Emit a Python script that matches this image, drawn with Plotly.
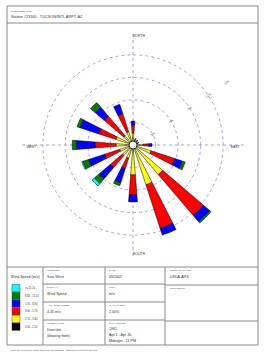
import plotly.graph_objects as go

W, H = 265, 357

directions = ["N", "NNE", "NE", "ENE", "E", "ESE", "SE", "SSE",
              "S", "SSW", "SW", "WSW", "W", "WNW", "NW", "NNW"]
angles = [0, 22.5, 45, 67.5, 90, 112.5, 135, 157.5,
          180, 202.5, 225, 247.5, 270, 292.5, 315, 337.5]

speed_classes = ["0.50 - 2.10", "2.10 - 3.60", "3.60 - 5.70",
                 "5.70 - 8.80", "8.80 - 11.10", ">= 11.10"]
class_colors = ["#000000", "#FFFF00", "#FF0000", "#0000FF", "#008000", "#00FFFF"]

# frequency (%) per direction for each wind-speed class
freq_050_210 = [0.27, 0.20, 0.20, 0.20, 0.27, 0.27, 0.27, 0.27, 0.27, 0.27, 0.27, 0.27, 0.27, 0.27, 0.27, 0.27]
freq_210_360 = [1.33, 0.46, 0.40, 0.40, 1.06, 2.26, 4.91, 5.31, 3.72, 1.59, 1.59, 1.59, 1.99, 2.12, 1.33, 1.59]
freq_360_570 = [1.06, 0.27, 0.27, 0.20, 0.76, 3.32, 7.17, 6.11, 2.66, 1.46, 2.12, 2.12, 2.79, 2.39, 3.45, 2.52]
freq_570_880 = [0.53, 0.00, 0.00, 0.00, 0.44, 1.06, 1.06, 0.93, 0.93, 1.99, 1.99, 2.26, 2.52, 2.66, 1.59, 1.33]
freq_880_1110 = [0.00, 0.00, 0.00, 0.00, 0.00, 0.40, 0.27, 0.00, 0.00, 0.40, 0.80, 0.80, 0.53, 0.40, 0.80, 0.00]
freq_ge_1110 = [0.00, 0.00, 0.00, 0.00, 0.00, 0.00, 0.00, 0.00, 0.00, 0.00, 0.40, 0.13, 0.00, 0.00, 0.00, 0.00]
series = [freq_050_210, freq_210_360, freq_360_570, freq_570_880, freq_880_1110, freq_ge_1110]

radial_ticks = [3, 6, 9, 12, 15]
radial_labels = ["3%", "6%", "9%", "12%", "15%"]
compass_labels = ["NORTH", "EAST", "SOUTH", "WEST"]
compass_angles = [0, 90, 180, 270]

header_title = "WIND ROSE PLOT:"
station = "Station #23160 - TUCSON/INTL ARPT, AZ"
legend_title = "Wind Speed (m/s)"
footer = "WRPLOT View 3.5 by Lakes Environmental Software - www.lakes-environmental.com"

def px(x):
    return x / W

def py(y):
    return 1 - y / H

fig = go.Figure()
for vals, name, col in zip(series, speed_classes, class_colors):
    fig.add_trace(go.Barpolar(r=vals, theta=angles, name=name, width=9,
                              marker=dict(color=col, line=dict(color="black", width=0.5)),
                              showlegend=False))

# calm circle
fig.add_trace(go.Scatterpolar(r=[0], theta=[0], mode="markers", showlegend=False,
                              marker=dict(size=8, color="white", line=dict(color="black", width=0.8))))

# compass labels inside the outer circle
fig.add_trace(go.Scatterpolar(r=[14.75, 14.2, 14.75, 14.2], theta=compass_angles, mode="text",
                              text=compass_labels, showlegend=False,
                              textposition=["bottom right", "bottom left", "top right", "bottom right"],
                              textfont=dict(size=3.4, color="#333333", family="Liberation Sans")))

grid_col = "#a4a4dc"
fig.update_layout(
    width=W, height=H, margin=dict(l=0, r=0, t=0, b=0),
    paper_bgcolor="white", plot_bgcolor="white",
    polar=dict(
        domain=dict(x=[px(20), px(246)], y=[py(258), py(32)]),
        bgcolor="white",
        angularaxis=dict(rotation=90, direction="clockwise", tickvals=compass_angles,
                         showticklabels=False, ticks="", showline=False,
                         gridcolor=grid_col, griddash="dot", gridwidth=1),
        radialaxis=dict(range=[0, 15.05], tickvals=radial_ticks, ticktext=radial_labels,
                        showline=False, ticks="", angle=35, tickangle=0,
                        gridcolor=grid_col, griddash="dot", gridwidth=1,
                        tickfont=dict(size=3, color="#333333", family="Liberation Sans")),
    ),
)

line_col = "#888888"
shapes = []
def hline(x0, x1, y):
    shapes.append(dict(type="line", xref="paper", yref="paper", x0=px(x0), x1=px(x1),
                       y0=py(y), y1=py(y), line=dict(color=line_col, width=1)))
def vline(x, y0, y1):
    shapes.append(dict(type="line", xref="paper", yref="paper", x0=px(x), x1=px(x),
                       y0=py(y0), y1=py(y1), line=dict(color=line_col, width=1)))

shapes.append(dict(type="rect", xref="paper", yref="paper", x0=px(7), x1=px(258),
                   y0=py(345), y1=py(6), line=dict(color=line_col, width=1)))
hline(7, 258, 23)
hline(7, 258, 267)
for x in [43, 105, 165]:
    vline(x, 267, 345)
for y in [284, 302, 320]:
    hline(43, 165, y)
for y in [285, 321]:
    hline(165, 258, y)

# legend swatches (top: strongest class)
box_top = 284.5
for i, col in enumerate(reversed(class_colors)):
    y0 = box_top + i * 7.7
    shapes.append(dict(type="rect", xref="paper", yref="paper", x0=px(12), x1=px(20),
                       y0=py(y0 + 7.4), y1=py(y0), fillcolor=col,
                       line=dict(color="#444444", width=0.5)))

annotations = []
def txt(x, y, s, size, color="#333333", anchor="left"):
    annotations.append(dict(x=px(x), y=py(y), xref="paper", yref="paper", text=s,
                            showarrow=False, xanchor=anchor, yanchor="middle",
                            font=dict(size=size, color=color, family="Liberation Sans")))

txt(9, 11, header_title, 2.4, "#444444")
txt(9, 17, station, 3.8)
txt(25, 277, legend_title, 3.6, anchor="center")
for i, lab in enumerate(reversed(speed_classes)):
    txt(23, box_top + i * 7.7 + 3.7, lab, 2.6)

hdr = 2.5
val = 3.6
txt(45, 270, "MODELER:", hdr, "#555555")
txt(45, 277, "Sara West", val)
txt(45, 287, "DISPLAY:", hdr, "#555555")
txt(45, 294, "Wind Speed", val)
txt(45, 305, "AVG. WIND SPEED:", hdr, "#555555")
txt(45, 312, "4.35 m/s", val)
txt(45, 323, "ORIENTATION:", hdr, "#555555")
txt(45, 330, "Direction", val)
txt(45, 336, "(blowing from)", val)

txt(107, 270, "DATE:", hdr, "#555555")
txt(107, 277, "09/2002", val)
txt(107, 287, "UNIT:", hdr, "#555555")
txt(107, 294, "m/s", val)
txt(107, 305, "CALM WINDS:", hdr, "#555555")
txt(107, 312, "2.00%", val)
txt(107, 323, "DATA PERIOD:", hdr, "#555555")
txt(107, 329, "1961", val)
txt(107, 335, "Apr 1 - Apr 30", val)
txt(107, 341, "Midnight - 11 PM", val)

txt(168, 270, "COMPANY NAME:", hdr, "#555555")
txt(168, 277, "USDA-ARS", val)
txt(168, 288, "COMMENTS:", hdr, "#555555")

txt(8, 350, footer, 2.3, "#444444")

fig.update_layout(shapes=shapes, annotations=annotations)
fig.write_html("out.html")
